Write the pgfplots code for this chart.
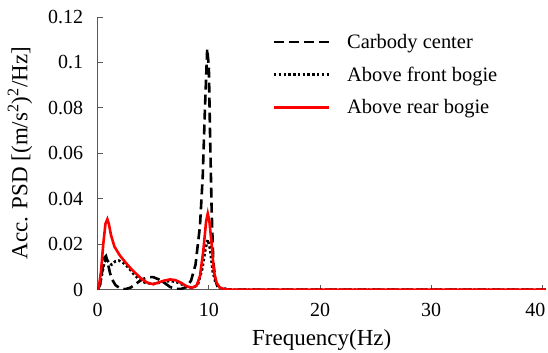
\documentclass[border=0pt]{standalone}
\usepackage{pgfplots}
\pgfplotsset{compat=1.18}
\usepackage{fontspec}
\setmainfont{Liberation Serif}
\begin{document}
\begin{tikzpicture}
\begin{axis}[
  scale only axis,
  width=448.5pt, height=273pt,
  xmin=0, xmax=40.3, ymin=0, ymax=0.12,
  axis x line=bottom, axis y line=left,
  axis line style={-, black!65, line width=0.8pt},
  tick style={black!65, line width=0.8pt},
  tick align=inside,
  major tick length=5pt,
  xtick={0,10,20,30,40}, xticklabels={0,10,20,30,\hspace*{-14pt}40},
  ytick={0,0.02,0.04,0.06,0.08,0.1,0.12},
  yticklabels={0,0.02,0.04,0.06,0.08,0.1,0.12},
  tick label style={font=\fontsize{20}{22}\selectfont},
  xticklabel style={yshift=-10pt},
  yticklabel style={xshift=-11pt},
  xlabel={Frequency(Hz)},
  ylabel={Acc. PSD [(m/s\textsuperscript{2})\textsuperscript{2}/Hz]},
  label style={font=\fontsize{23}{26}\selectfont},
  xlabel style={yshift=-6pt},
  ylabel style={yshift=9pt},
  legend style={draw=none, fill=none, at={(rel axis cs:0.39,0.945)}, anchor=north west,
    font=\fontsize{20.5}{23}\selectfont, row sep=13pt, inner sep=0pt,
    /tikz/every odd column/.append style={column sep=15pt}},
  legend cell align=left,
  legend image code/.code={\draw[#1] (0pt,0pt) -- (55pt,0pt);},
  every axis plot/.append style={line width=2.6pt},
]
\addplot[black, dash pattern=on 10pt off 5pt] coordinates {
(0,0) (0.2,0.002) (0.4,0.008) (0.6,0.014) (0.75,0.0148) (0.9,0.012) (1.1,0.0075)
(1.3,0.0045) (1.6,0.002) (2.0,0.0006) (2.5,0.0002) (3.0,0.001) (3.5,0.0028)
(4.0,0.0045) (4.5,0.0055) (5.0,0.0055) (5.5,0.0045) (6.0,0.003) (6.5,0.0012)
(7.0,0.0004) (7.5,0.0003) (8.0,0.0012) (8.4,0.004) (8.8,0.011) (9.2,0.028)
(9.45,0.05) (9.65,0.08) (9.85,0.106) (10.0,0.098) (10.1,0.07) (10.25,0.035)
(10.4,0.012) (10.6,0.004) (10.8,0.001) (11.2,0.0002) (12,0) (40.3,0)
};
\addlegendentry{Carbody center}
\addplot[black, dash pattern=on 2.4pt off 2.4pt] coordinates {
(0,0) (0.2,0.002) (0.4,0.007) (0.6,0.012) (0.8,0.0135) (1.0,0.012) (1.25,0.011)
(1.6,0.0125) (1.9,0.0128) (2.3,0.0118) (2.8,0.0095) (3.3,0.0065) (3.8,0.0042)
(4.3,0.003) (5.0,0.0025) (5.5,0.003) (6.0,0.0035) (6.5,0.0038) (7.0,0.0035)
(7.5,0.0025) (8.0,0.0012) (8.5,0.0008) (9.0,0.002) (9.4,0.009) (9.7,0.018)
(9.9,0.022) (10.1,0.018) (10.35,0.008) (10.6,0.003) (11.0,0.0008) (12,0) (40.3,0)
};
\addlegendentry{Above front bogie}
\addplot[red] coordinates {
(0,0) (0.1,0.001) (0.3,0.008) (0.5,0.02) (0.7,0.029) (0.87,0.031) (1.0,0.029)
(1.2,0.024) (1.5,0.019) (2.0,0.015) (2.5,0.012) (3.0,0.0092) (3.5,0.0068)
(4.0,0.0045) (4.5,0.003) (5.0,0.0024) (5.5,0.0032) (6.0,0.004) (6.5,0.0045)
(7.0,0.0042) (7.5,0.003) (8.0,0.0015) (8.5,0.0008) (8.9,0.0018) (9.2,0.006)
(9.5,0.017) (9.75,0.03) (9.9,0.0335) (10.05,0.03) (10.25,0.02) (10.45,0.008)
(10.7,0.003) (11.0,0.0008) (11.5,0.0001) (12,0) (40.3,0)
};
\addlegendentry{Above rear bogie}
\coordinate (bbll) at (rel axis cs:-0.218,-0.231);
\coordinate (bbur) at (rel axis cs:1.005,1.062);
\end{axis}
\pgfresetboundingbox
\useasboundingbox (bbll) rectangle (bbur);
\end{tikzpicture}
\end{document}
